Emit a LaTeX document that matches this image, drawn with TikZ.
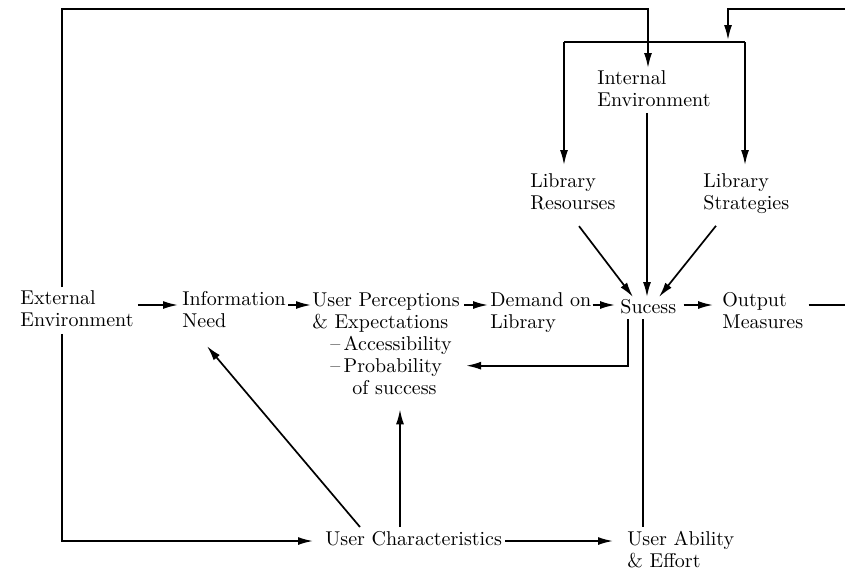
\documentclass[tikz,border=0pt]{standalone}
\usetikzlibrary{arrows.meta}
\begin{document}
\begin{tikzpicture}[x=0.5pt,y=-0.5pt,
  txt/.style={anchor=north west,inner sep=0pt,align=left,font=\fontsize{10}{11}\selectfont},
  ln/.style={line width=0.85pt},
  arr/.style={ln,-{Latex[length=7.5pt,width=4pt]}}]
\useasboundingbox (0,0) rectangle (845,569);
% nodes
\node[txt] (ext) at (20,290) {External\\Environment};
\node[txt] (info) at (182,291) {Information\\Need};
\node[txt] (percA) at (312,292) {User Perceptions\\\& Expectations};
\node[txt] (percB) at (330,336) {--\,Accessibility\\--\,Probability\\\hspace*{11pt}of success};
\node[txt] (dem) at (490,292) {Demand on\\Library};
\node[txt] (suc) at (620,299) {Sucess};
\node[txt] (out) at (722,292) {Output\\Measures};
\node[txt] (int) at (597,70) {Internal\\Environment};
\node[txt] (res) at (530,173) {Library\\Resourses};
\node[txt] (str) at (703,173) {Library\\Strategies};
\node[txt] (uc) at (325,531) {User Characteristics};
\node[txt] (ua) at (627,531) {User Ability\\\& Effort};
% helper coordinates
\coordinate (lx) at (62,0);
\coordinate (ltop) at (648,9);
\coordinate (rtop) at (847,9);
\coordinate (rj) at (728,42);
\coordinate (bL) at (564,42);
\coordinate (bR) at (745,42);
\coordinate (row) at (0,305);
\coordinate (bot) at (0,541);
\coordinate (vx) at (400,0);
\coordinate (sx) at (643,0);
\coordinate (mx) at (647,0);
% outer loops
\draw[arr,shorten <=1.5pt,shorten >=1pt] (ext.north -| lx) |- (ltop) -- (ltop |- int.north);
\draw[arr,shorten <=3.5pt,shorten >=6pt] (ext.south -| lx) |- (uc.west |- bot);
\draw[arr,shorten <=2.5pt,shorten >=1pt] (out.east |- row) -| (rtop) -| (rj);
% distribution bar
\draw[ln] (bL) -- (bR);
\draw[arr,shorten >=4pt] (bL) -- (bL |- res.north);
\draw[arr,shorten >=4pt] (bR) -- (bR |- str.north);
% into Sucess
\draw[arr,shorten <=3pt,shorten >=1pt] (mx |- int.south) -- (mx |- suc.north);
\draw[arr] ([shift={(49,16)}]res.south west) -- ([shift={(13,-2)}]suc.north west);
\draw[arr] ([shift={(13,12)}]str.south west) -- ([shift={(39,-2)}]suc.north west);
% main row
\draw[arr,shorten <=2pt,shorten >=2pt] (ext.east |- row) -- (info.west |- row);
\draw[arr,shorten <=1pt,shorten >=0.5pt] (info.east |- row) -- (percA.west |- row);
\draw[arr,shorten <=2pt,shorten >=1pt] (percA.east |- row) -- (dem.west |- row);
\draw[arr,shorten <=0.5pt,shorten >=2.5pt] (dem.east |- row) -- (suc.west |- row);
\draw[arr,shorten <=3.5pt,shorten >=4.5pt] (suc.east |- row) -- (out.west |- row);
% out of Sucess
\draw[arr] ([shift={(8,5)}]suc.south west) |- ([xshift=7pt]percB.east);
\draw[ln,shorten >=2pt] ([shift={(23,5)}]suc.south west) -- (sx |- ua.north);
% user characteristics
\draw[arr,shorten <=1.5pt,shorten >=7pt] (uc.east |- bot) -- (ua.west |- bot);
\draw[arr] ([shift={(35,-4)}]uc.north west) -- ([shift={(25,18)}]info.south west);
\draw[arr] ([shift={(75,-4)}]uc.north west) -- ([yshift=-7pt]vx |- percB.south);
\end{tikzpicture}
\end{document}
